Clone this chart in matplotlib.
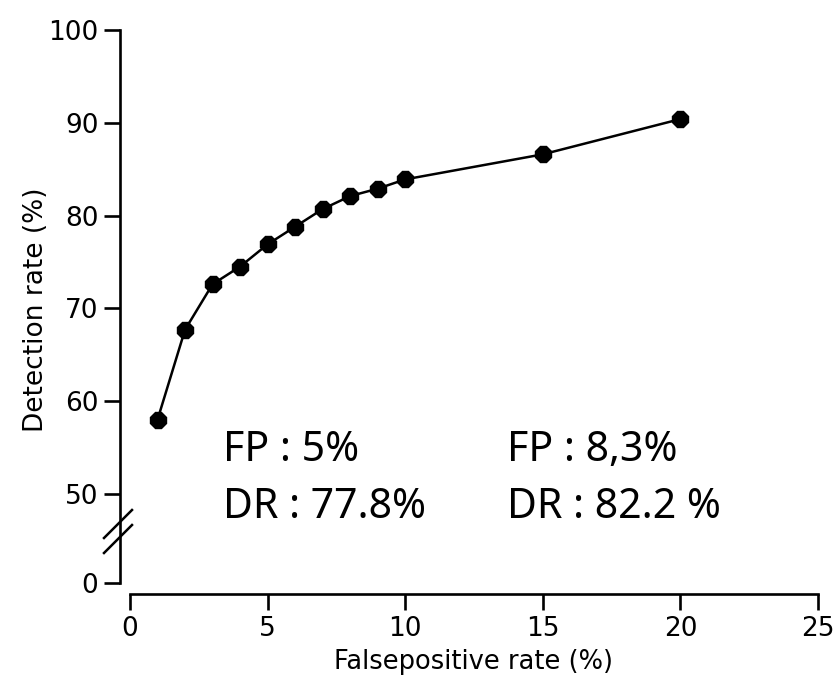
import matplotlib
matplotlib.use("Agg")
import matplotlib.pyplot as plt
import numpy as np
from matplotlib.lines import Line2D

# false-positive rate (%) and detection rate (%)
fp_rate = [1, 2, 3, 4, 5, 6, 7, 8, 9, 10, 15, 20]
det_rate = [58.0, 67.7, 72.6, 74.5, 76.9, 78.8, 80.7, 82.1, 82.9, 83.9, 86.6, 90.4]

x_ticks = [0, 5, 10, 15, 20, 25]
y_ticks = [0, 50, 60, 70, 80, 90, 100]

notes_left = ["FP : 5%", "DR : 77.8%"]
notes_right = ["FP : 8,3%", "DR : 82.2 %"]

# broken y axis: 0-50 squeezed
K = 0.192


def fwd(y):
    y = np.asarray(y, dtype=float)
    return np.where(y >= 50, y, 50 - (50 - y) * K)


def inv(g):
    g = np.asarray(g, dtype=float)
    return np.where(g >= 50, g, 50 - (50 - g) / K)


fig = plt.figure(figsize=(8.4, 6.8), dpi=100)
ax = fig.add_axes([130 / 840, 1 - 583 / 680, 688 / 840, 553 / 680])
ax.set_yscale("function", functions=(fwd, inv))

ax.plot(fp_rate, det_rate, color="black", lw=1.8, marker="8", ms=13,
        markerfacecolor="black", markeredgecolor="black", clip_on=False)

ax.set_xlim(0, 25)
ax.set_ylim(0, 100)
ax.set_xticks(x_ticks)
ax.set_yticks(y_ticks)
ax.minorticks_off()

for side in ["top", "right"]:
    ax.spines[side].set_visible(False)
ax.spines["left"].set_position(("outward", 7.2))
ax.spines["bottom"].set_position(("outward", 7.9))
ax.spines["left"].set_bounds(0, 100)
ax.spines["bottom"].set_bounds(0, 25)
for side in ["left", "bottom"]:
    ax.spines[side].set_linewidth(1.9)

ax.tick_params(axis="both", direction="out", length=11.5, width=1.9,
               labelsize=19, pad=4)

ax.set_xlabel("Falsepositive rate (%)", fontsize=18.5)
ax.set_ylabel("Detection rate (%)", fontsize=19)
ax.xaxis.set_label_coords(0.5, -0.12)
ax.yaxis.set_label_coords(-0.118, 0.494)

# break marks on the y axis
for y0 in [538, 553]:
    fig.add_artist(Line2D([104 / 840, 132 / 840],
                          [1 - y0 / 680, 1 - (y0 - 28) / 680],
                          color="black", lw=1.8))

# annotations
for i, (a, b) in enumerate(zip(notes_left, notes_right)):
    yf = [0.2206, 0.1175][i]
    ax.text(0.135, yf, a, transform=ax.transAxes, fontsize=29.5,
            family="Noto Sans", va="baseline", ha="left")
    ax.text(0.548, yf, b, transform=ax.transAxes, fontsize=29.5,
            family="Noto Sans", va="baseline", ha="left")

fig.savefig("out.png", dpi=100)
